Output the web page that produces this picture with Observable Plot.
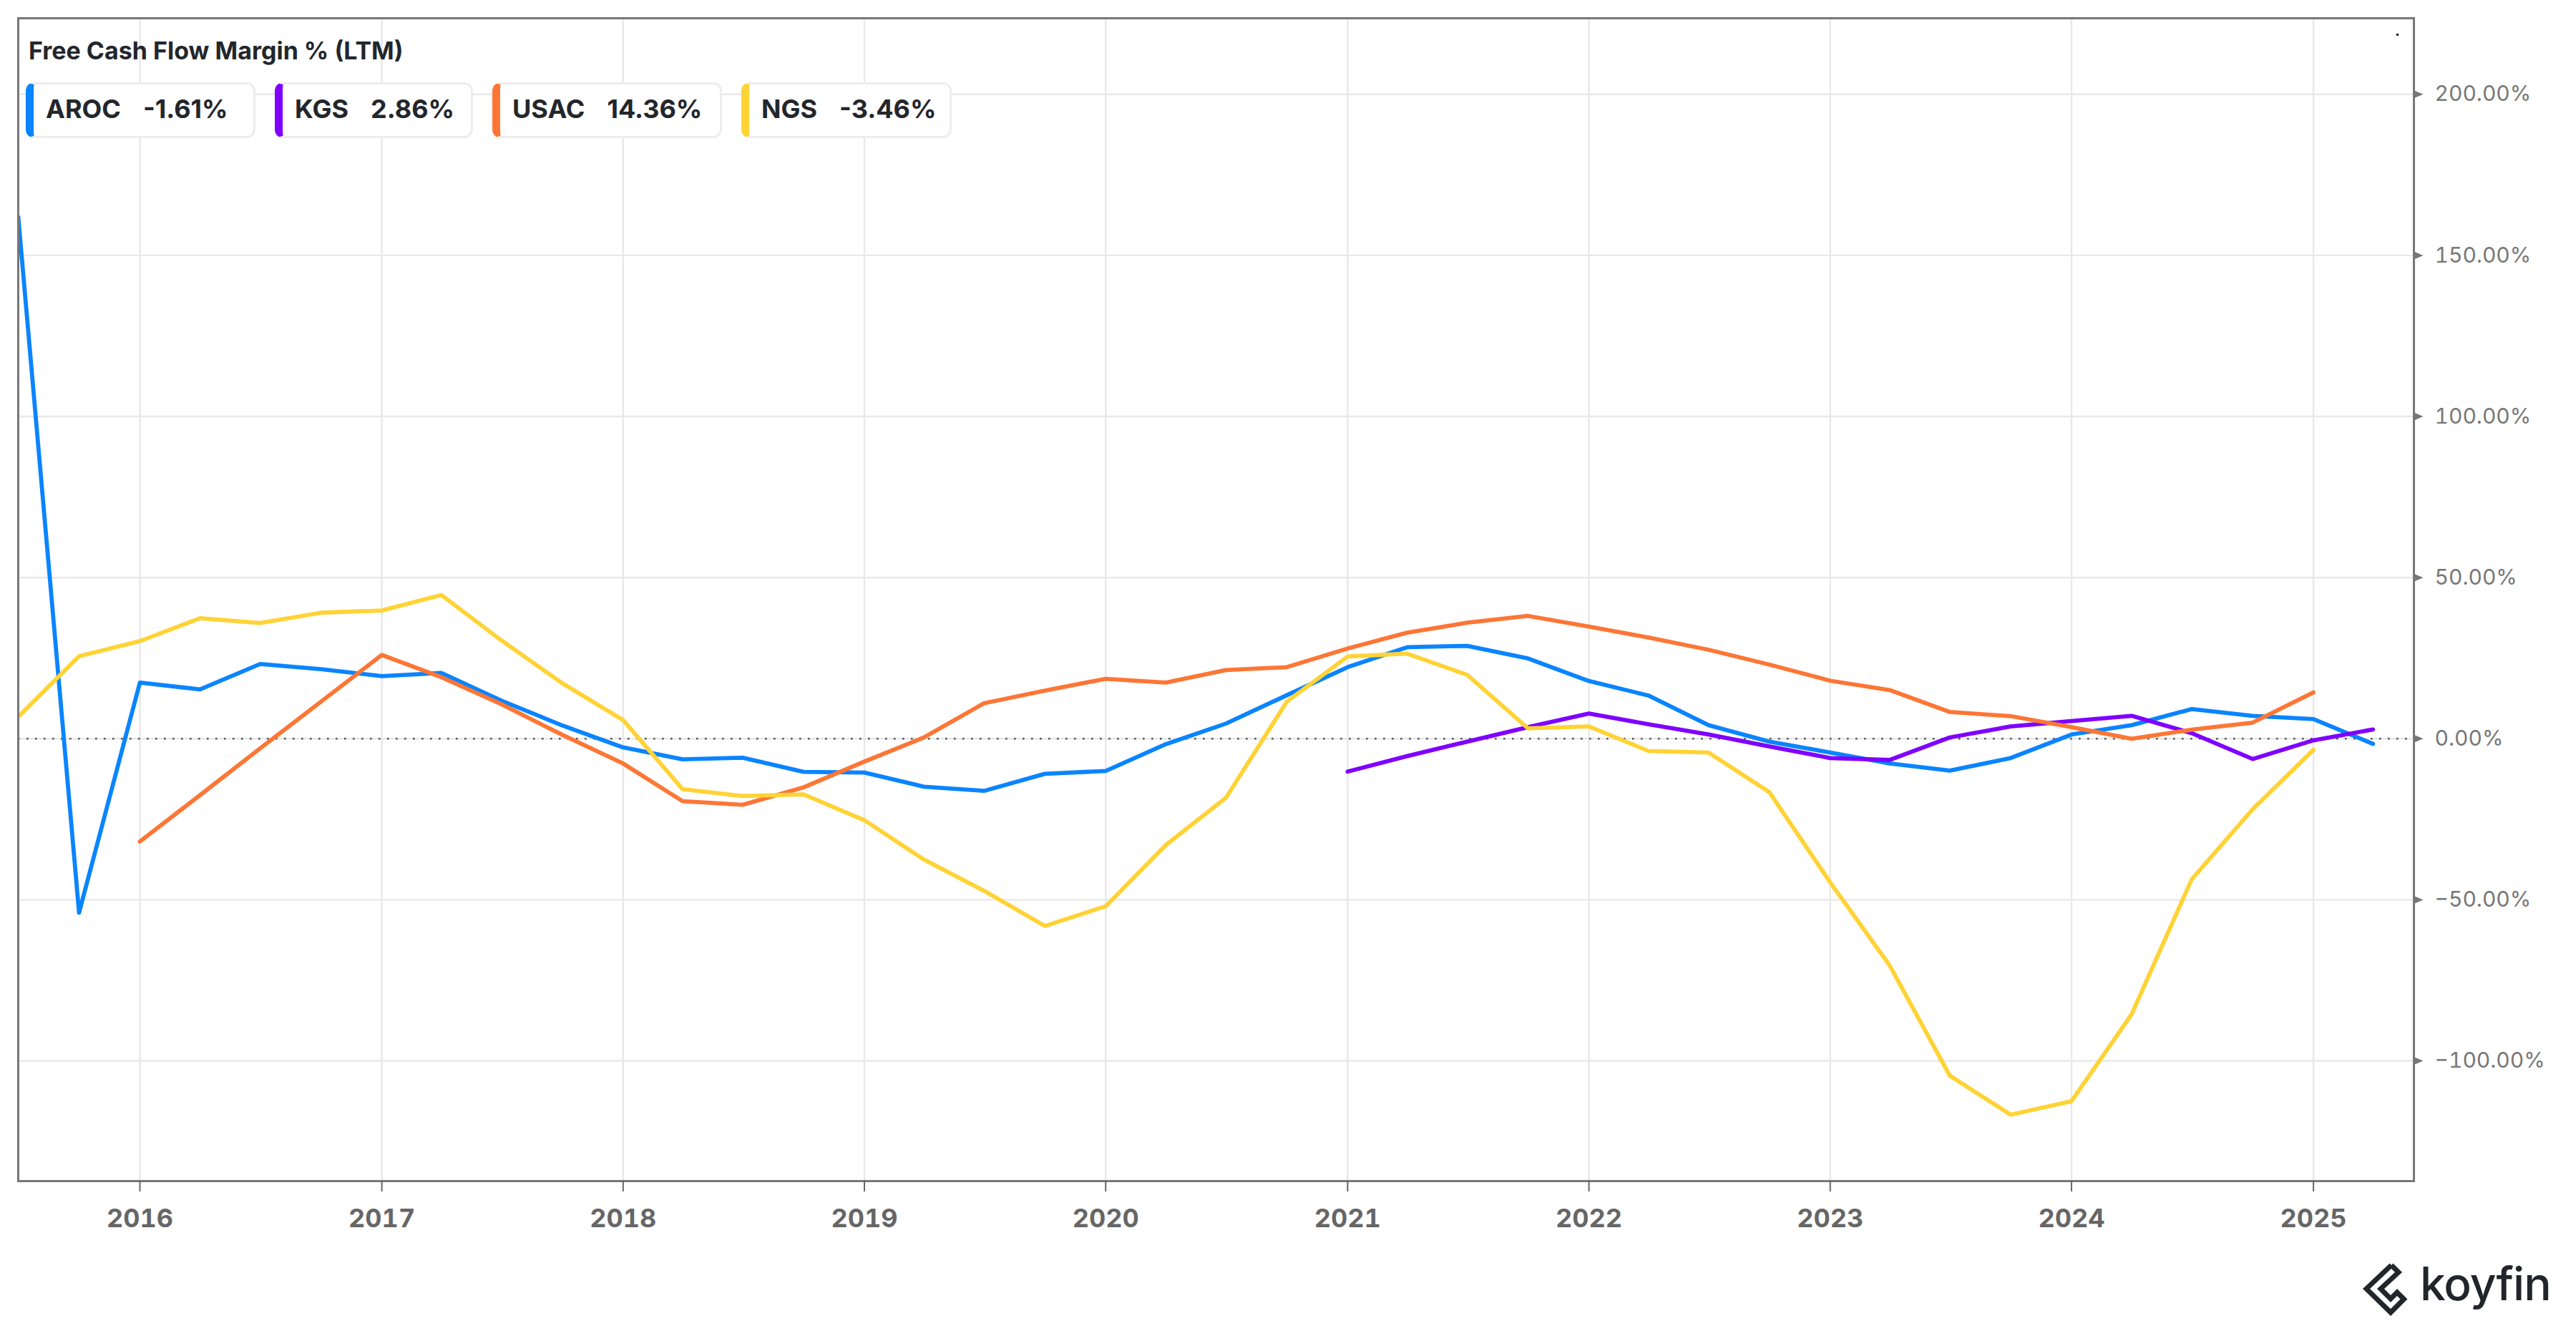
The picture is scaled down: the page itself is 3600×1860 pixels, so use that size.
<!DOCTYPE html>
<html>
<head>
<meta charset="utf-8">
<script src="https://cdn.jsdelivr.net/npm/d3@7"></script>
<script src="https://cdn.jsdelivr.net/npm/@observablehq/plot@0.6"></script>
<style>
  html, body { margin: 0; padding: 0; background: #fff; }
  body { font-family: Inter, "Noto Sans", sans-serif; }
  #wrap { position: relative; width: 3600px; height: 1860px; overflow: hidden; }
  #chart { position: absolute; left: 0; top: 0; }
  .title { position: absolute; left: 40px; top: 54px; font-size: 34px; font-weight: 700; color: #23262b; line-height: 1; white-space: nowrap; }
  .legend { position: absolute; left: 36px; top: 115px; display: flex; gap: 27px; }
  .item { box-sizing: border-box; height: 78px; display: flex; align-items: center; background: #fff;
          border: 3px solid #ededed; border-radius: 12px; padding: 0 0 4px 17px;
          font-size: 36px; font-weight: 700; color: #23262b; line-height: 1; white-space: nowrap; overflow: hidden; }
  .item .name { margin-right: 31px; }
  .dot { position: absolute; left: 3349px; top: 47px; width: 3px; height: 3px; background: #111; }
  .logo { position: absolute; left: 3280px; top: 1740px; }
  g[aria-label="x-axis tick label"] text { font-weight: 700; }
</style>
</head>
<body>
<div id="wrap">
  <div id="chart"></div>
  <div class="title" id="title"></div>
  <div class="legend" id="legend"></div>
  <div class="dot"></div>
  <svg class="logo" width="320" height="120" viewBox="0 0 320 120">
    <g fill="none" stroke="#22262b" stroke-width="7" stroke-linejoin="miter">
      <path d="M62 28 L27 61 L61 94 L82 73"/>
      <path d="M62 28 L72 38 L47 61 L61 75 L70 66 L78 74"/>
    </g>
    <text x="102" y="77" font-family="Inter, sans-serif" font-size="64" font-weight="500" fill="#22262b" letter-spacing="-1">koyfin</text>
  </svg>
</div>
<script>
// ---- data ----
const titleText = "Free Cash Flow Margin % (LTM)";
const tickers = ["AROC", "KGS", "USAC", "NGS"];
const colors = ["#0a84ff", "#7f00ff", "#fd7635", "#ffd335"];
const legendValues = ["-1.61%", "2.86%", "14.36%", "-3.46%"];
const legendBoxWidths = [321, 277, 321, 294];

const quarters = [
  "2015-07-01", "2015-10-01",
  "2016-01-01", "2016-04-01", "2016-07-01", "2016-10-01",
  "2017-01-01", "2017-04-01", "2017-07-01", "2017-10-01",
  "2018-01-01", "2018-04-01", "2018-07-01", "2018-10-01",
  "2019-01-01", "2019-04-01", "2019-07-01", "2019-10-01",
  "2020-01-01", "2020-04-01", "2020-07-01", "2020-10-01",
  "2021-01-01", "2021-04-01", "2021-07-01", "2021-10-01",
  "2022-01-01", "2022-04-01", "2022-07-01", "2022-10-01",
  "2023-01-01", "2023-04-01", "2023-07-01", "2023-10-01",
  "2024-01-01", "2024-04-01", "2024-07-01", "2024-10-01",
  "2025-01-01", "2025-04-01"
];

const aroc = [161.9, -54.0, 17.4, 15.3, 23.2, 21.6, 19.4, 20.4, 11.8, 4.1,
  -2.7, -6.4, -5.9, -10.3, -10.5, -14.9, -16.2, -10.9, -10.0, -1.7,
  4.7, 13.5, 22.2, 28.4, 28.8, 24.9, 17.9, 13.4, 4.2, -0.9,
  -4.3, -7.7, -9.9, -6.0, 1.3, 4.2, 9.2, 7.1, 6.1, -1.61];

const kgs = [null, null, null, null, null, null, null, null, null, null,
  null, null, null, null, null, null, null, null, null, null,
  null, null, -10.2, -5.4, -0.9, 3.6, 7.8, 4.5, 1.3, -2.4,
  -6.0, -6.6, 0.4, 3.8, 5.5, 7.1, 1.7, -6.3, -0.5, 2.86];

const usac = [null, null, -31.9, -17.5, -3.0, 11.5, 26.0, 19.1, 10.7, 1.2,
  -7.7, -19.4, -20.5, -15.1, -7.1, 0.4, 11.0, 14.9, 18.6, 17.4,
  21.3, 22.2, 28.0, 32.9, 36.0, 38.1, 34.8, 31.4, 27.6, 23.0,
  18.0, 15.1, 8.3, 7.0, 3.6, 0.0, 2.8, 5.0, 14.36, null];

const ngs = [6.8, 25.6, 30.3, 37.4, 35.9, 39.1, 39.8, 44.6, 30.5, 17.2,
  5.8, -15.7, -17.8, -17.3, -25.3, -37.5, -47.2, -58.1, -52.0, -33.0,
  -18.3, 11.5, 25.5, 26.4, 19.8, 3.2, 3.8, -3.8, -4.3, -16.6,
  -44.6, -70.4, -104.6, -116.7, -112.5, -85.5, -43.6, -21.9, -3.46, null];

const yTicks = [-100, -50, 0, 50, 100, 150, 200];
const xStart = "2015-07-01";
const xEnd = "2025-06-02";
const yMin = -137.3, yMax = 223.6;

// ---- build table ----
const seriesValues = [aroc, kgs, usac, ngs];
const rows = [];
tickers.forEach((t, i) => {
  quarters.forEach((q, j) => {
    const v = seriesValues[i][j];
    rows.push({ticker: t, date: new Date(q + "T00:00:00Z"), value: v == null ? NaN : v});
  });
});

// ---- title & legend ----
document.getElementById("title").textContent = titleText;
const legend = document.getElementById("legend");
tickers.forEach((t, i) => {
  const item = document.createElement("div");
  item.className = "item";
  item.style.borderLeft = "11px solid " + colors[i];
  item.style.width = legendBoxWidths[i] + "px";
  const n = document.createElement("span"); n.className = "name"; n.textContent = t;
  const v = document.createElement("span"); v.textContent = legendValues[i];
  item.appendChild(n); item.appendChild(v);
  legend.appendChild(item);
});

// ---- chart ----
const triangleRight = {
  draw(context) {
    context.moveTo(0, -5.5);
    context.lineTo(13, 0);
    context.lineTo(0, 5.5);
    context.closePath();
  }
};

const chart = Plot.plot({
  width: 3600,
  height: 1860,
  marginLeft: 25,
  marginTop: 25,
  marginRight: 227,
  marginBottom: 210,
  style: {fontFamily: "Inter, 'Noto Sans', sans-serif", background: "transparent", overflow: "visible"},
  x: {type: "utc", label: null, domain: [new Date(xStart + "T00:00:00Z"), new Date(xEnd + "T00:00:00Z")]},
  y: {label: null, domain: [yMin, yMax]},
  color: {domain: tickers, range: colors},
  marks: [
    Plot.gridX({ticks: d3.utcYear.every(1), stroke: "#e8e8e8", strokeOpacity: 1, strokeWidth: 2.4}),
    Plot.gridY(yTicks, {stroke: "#e8e8e8", strokeOpacity: 1, strokeWidth: 2.4}),
    Plot.ruleY([0], {stroke: "#555", strokeWidth: 2.6, strokeDasharray: "2.6,9.4"}),
    Plot.line(rows, {x: "date", y: "value", z: "ticker", stroke: "ticker", strokeWidth: 5.8, clip: true}),
    Plot.frame({stroke: "#777", strokeWidth: 3}),
    Plot.dot(yTicks, {y: d => d, frameAnchor: "right", symbol: triangleRight, fill: "#777", stroke: null, r: 6}),
    Plot.axisY(yTicks, {anchor: "right", label: null, tickSize: 0, tickPadding: 29, fontSize: 30, fill: "#777",
      tickFormat: d => (d < 0 ? "\u2212" : "") + Math.abs(d).toFixed(2) + "%"}),
    Plot.axisX({ticks: d3.utcYear.every(1), label: null, tickFormat: d3.utcFormat("%Y"), tickSize: 15, tickPadding: 24,
      fontSize: 36, fontWeight: 700, fill: "#666", stroke: "#666", strokeWidth: 2})
  ]
});
document.getElementById("chart").appendChild(chart);
</script>
</body>
</html>
